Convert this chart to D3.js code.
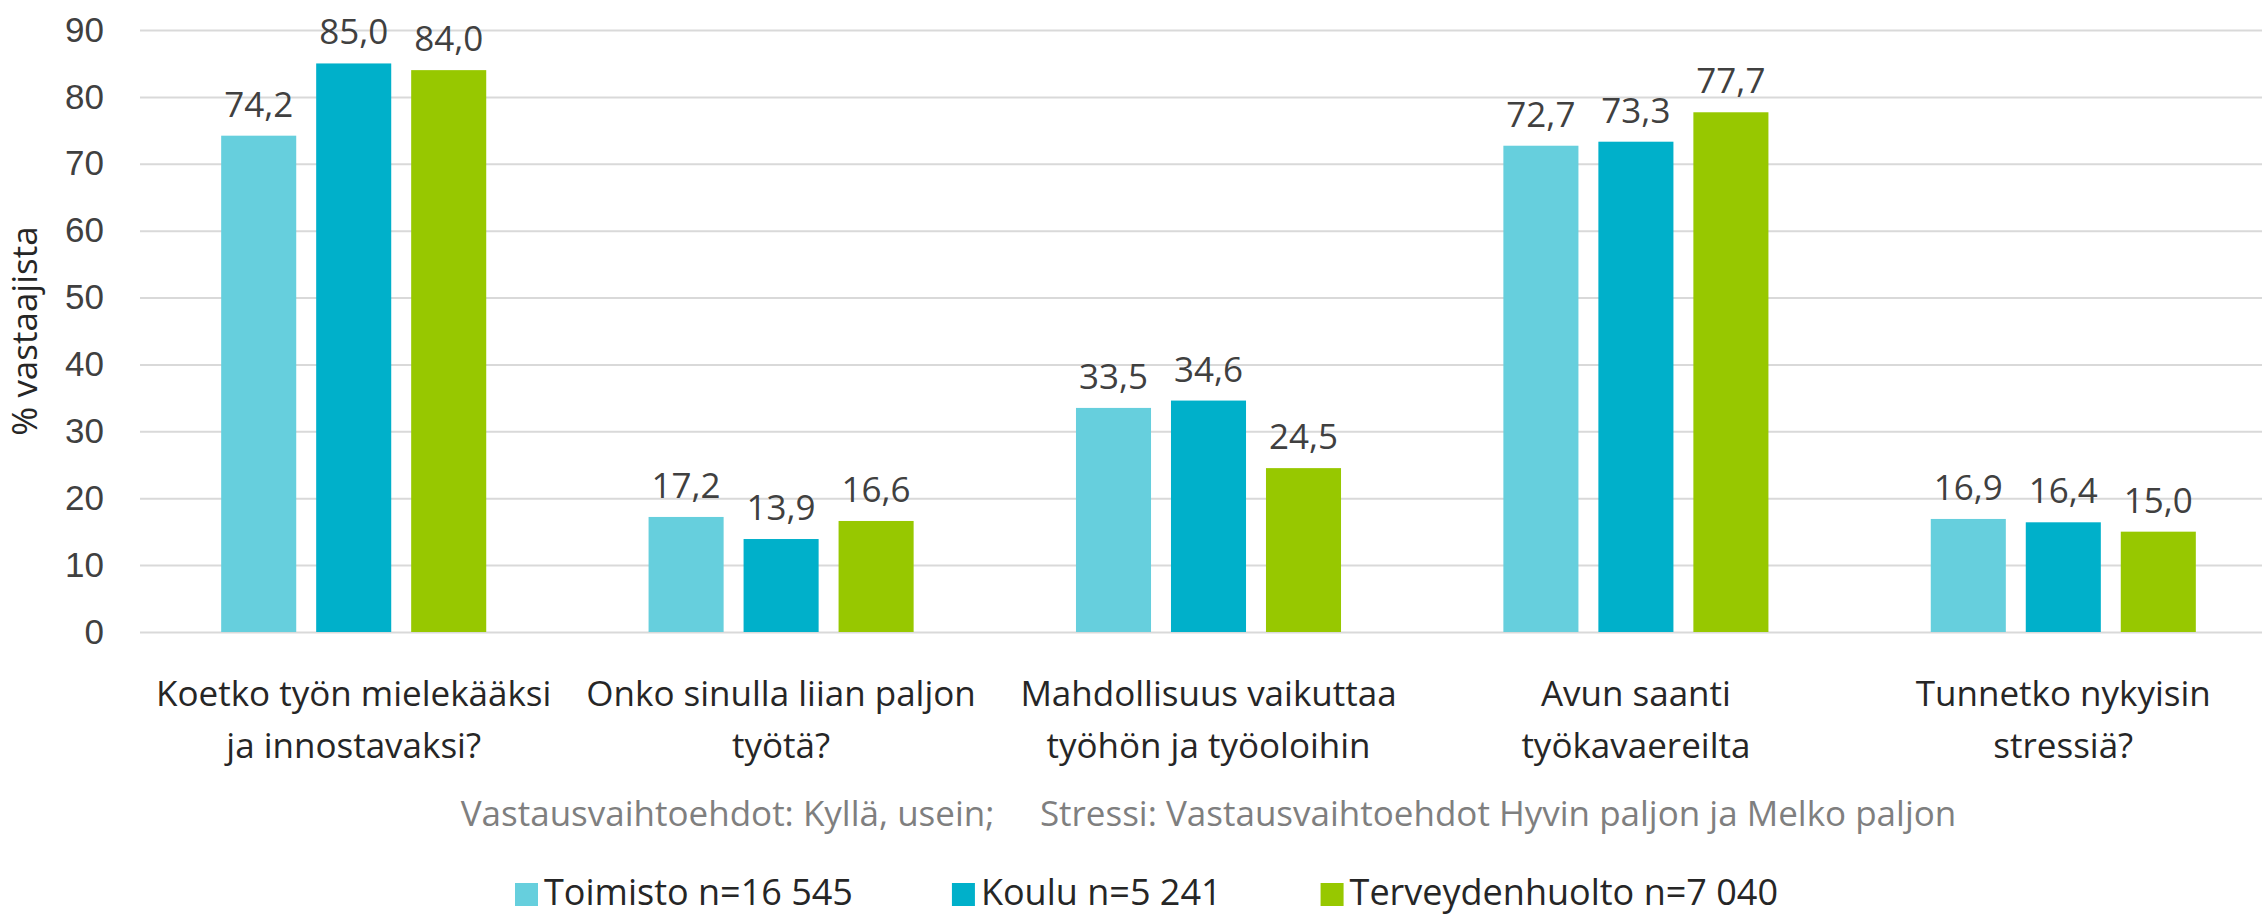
<!DOCTYPE html>
<html>
<head>
<meta charset="utf-8">
<script src="https://cdn.jsdelivr.net/npm/d3@7"></script>
<style>
  html, body { margin: 0; padding: 0; background: #fff; }
  svg { display: block; font-family: "Open Sans", "Segoe UI", sans-serif; }
</style>
</head>
<body>
<svg id="chart" width="2262" height="916"></svg>
<script>
const categories = [
  ["Koetko työn mielekääksi", "ja innostavaksi?"],
  ["Onko sinulla liian paljon", "työtä?"],
  ["Mahdollisuus vaikuttaa", "työhön ja työoloihin"],
  ["Avun saanti", "työkavaereilta"],
  ["Tunnetko nykyisin", "stressiä?"]
];
const seriesNames = ["Toimisto n=16 545", "Koulu n=5 241", "Terveydenhuolto n=7 040"];
const toimisto = [74.2, 17.2, 33.5, 72.7, 16.9];
const koulu = [85.0, 13.9, 34.6, 73.3, 16.4];
const terveydenhuolto = [84.0, 16.6, 24.5, 77.7, 15.0];
const yTicks = [0, 10, 20, 30, 40, 50, 60, 70, 80, 90];
const colors = ["#66CFDD", "#00B0CA", "#97C800"];
const yTitle = "% vastaajista";
const note = "Vastausvaihtoehdot: Kyllä, usein;     Stressi: Vastausvaihtoehdot Hyvin paljon ja Melko paljon";

(function () {
const seriesValues = [toimisto, koulu, terveydenhuolto];
const svg = d3.select("#chart");
const fs = 35;
const textColor = "#404040";

const pLeft = 140, pRight = 2277, pTop = 30, pBottom = 632;
const x0 = d3.scaleBand().domain(d3.range(categories.length)).range([pLeft, pRight]);
const x1 = d3.scaleBand().domain(d3.range(seriesNames.length)).range([0, 285]).paddingInner(0.21).paddingOuter(0.105);
const y = d3.scaleLinear().domain([0, 90]).range([pBottom, pTop]);

// gridlines + tick labels
const yAxis = d3.axisLeft(y).tickValues(yTicks).tickSize(-(2262 - pLeft)).tickFormat(d3.format("d")).tickPadding(36);
const gAxis = svg.append("g").attr("transform", `translate(${pLeft},0)`).call(yAxis);
gAxis.select(".domain").remove();
gAxis.selectAll(".tick line").attr("stroke", "#D9D9D9").attr("stroke-width", 2);
gAxis.selectAll(".tick text").attr("fill", textColor).style("font-size", fs + "px").attr("font-family", null);

// bars
const groups = svg.append("g").selectAll("g").data(categories).join("g")
  .attr("transform", (d, i) => `translate(${x0(i) + x0.bandwidth() / 2 - 142.5},0)`);
groups.each(function (c, ci) {
  const g = d3.select(this);
  seriesValues.forEach((vals, si) => {
    g.append("rect")
      .attr("x", x1(si))
      .attr("y", y(vals[ci]))
      .attr("width", x1.bandwidth())
      .attr("height", y(0) - y(vals[ci]))
      .attr("fill", colors[si]);
    g.append("text")
      .attr("x", x1(si) + x1.bandwidth() / 2)
      .attr("y", y(vals[ci]) - 19)
      .attr("text-anchor", "middle")
      .attr("fill", textColor)
      .style("font-size", fs + "px")
      .text(d3.format(".1f")(vals[ci]).replace(".", ","));
  });
});

// category labels
categories.forEach((lines, i) => {
  const t = svg.append("text")
    .attr("text-anchor", "middle")
    .attr("fill", "#262626")
    .style("font-size", fs + "px");
  lines.forEach((ln, li) => {
    t.append("tspan").attr("x", x0(i) + x0.bandwidth() / 2).attr("y", 706 + li * 52).text(ln);
  });
});

// y title
svg.append("text")
  .attr("transform", `translate(37,${(pTop + pBottom) / 2}) rotate(-90)`)
  .attr("text-anchor", "middle")
  .attr("fill", "#262626")
  .style("font-size", fs + "px")
  .text(yTitle);

// note
svg.append("text")
  .attr("x", (pLeft + pRight) / 2)
  .attr("y", 826)
  .attr("text-anchor", "middle")
  .attr("fill", "#7F7F7F")
  .style("font-size", fs + "px")
  .style("white-space", "pre")
  .text(note);

// legend
const legend = svg.append("g");
let lx = 515;
seriesNames.forEach((name, i) => {
  legend.append("rect").attr("x", lx).attr("y", 883).attr("width", 23).attr("height", 23).attr("fill", colors[i]);
  const t = legend.append("text").attr("x", lx + 29).attr("y", 905)
    .attr("fill", "#262626").style("font-size", "36px").text(name);
  lx += 29 + t.node().getComputedTextLength() + 99;
});
})();
</script>
</body>
</html>
